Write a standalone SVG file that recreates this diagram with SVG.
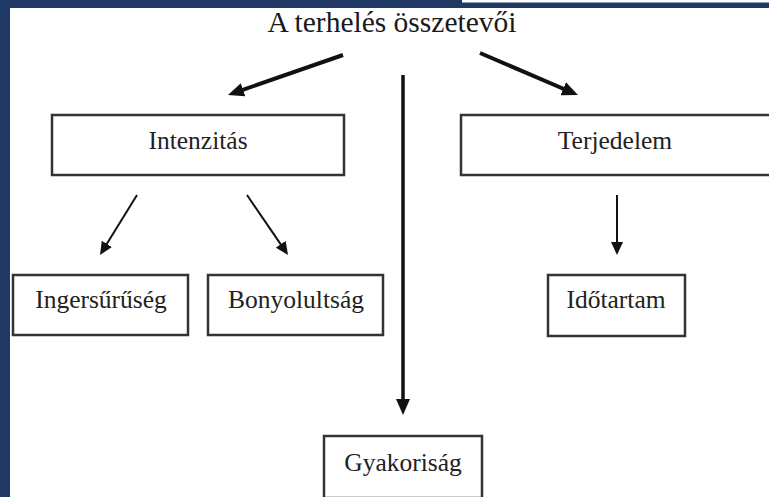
<svg xmlns="http://www.w3.org/2000/svg" width="769" height="497" viewBox="0 0 769 497">
<style>
.box{fill:#ffffff;stroke:#333333;stroke-width:2.5}
.lbl{font-family:"Liberation Serif","Times New Roman",serif;font-size:25.5px;fill:#222222;text-anchor:middle}
.title{font-family:"Liberation Serif","Times New Roman",serif;font-size:29.5px;fill:#1a1a1a;text-anchor:middle}
.thick{stroke:#111111;stroke-width:4;fill:none;marker-end:url(#hb)}
.vert{stroke:#111111;stroke-width:3.5;fill:none;marker-end:url(#hb)}
.thin{stroke:#111111;stroke-width:2;fill:none;marker-end:url(#hs)}
</style>
<defs>
<marker id="hb" markerUnits="userSpaceOnUse" markerWidth="16" markerHeight="14" refX="2" refY="7" orient="auto">
<path d="M0,0 L16,7 L0,14 z" fill="#111111"/>
</marker>
<marker id="hs" markerUnits="userSpaceOnUse" markerWidth="13" markerHeight="12" refX="2" refY="6" orient="auto">
<path d="M0,0 L13,6 L0,12 z" fill="#111111"/>
</marker>
</defs>
<rect x="0" y="0" width="769" height="497" fill="#ffffff"/>
<g id="frame">
<rect x="0" y="0" width="10" height="497" fill="#1f3864"/>
<rect x="0" y="0" width="462" height="8" fill="#1f3864"/>
<rect x="462" y="2.5" width="307" height="5.5" fill="#1f3864"/>
</g>
<g id="title"><text class="title" x="392" y="32">A terhelés összetevői</text></g>
<g id="connectors">
<line class="thick" x1="343" y1="55" x2="241.2" y2="90.4"/>
<line class="thick" x1="480" y1="53" x2="565.1" y2="89.5"/>
<line class="vert" x1="403" y1="75" x2="403" y2="401"/>
<line class="thin" x1="137" y1="195" x2="105.8" y2="245.6"/>
<line class="thin" x1="247" y1="195" x2="281.8" y2="245.9"/>
<line class="thin" x1="617" y1="195" x2="617" y2="244"/>
</g>
<g id="intenzitas"><rect class="box" x="52" y="115" width="292" height="60"/><text class="lbl" x="198" y="149">Intenzitás</text></g>
<g id="terjedelem"><rect class="box" x="461" y="115" width="310" height="60"/><text class="lbl" x="615" y="149">Terjedelem</text></g>
<g id="ingersuruseg"><rect class="box" x="13" y="275" width="175" height="60"/><text class="lbl" x="101" y="308">Ingersűrűség</text></g>
<g id="bonyolultsag"><rect class="box" x="208" y="275" width="175" height="60"/><text class="lbl" x="296" y="308">Bonyolultság</text></g>
<g id="idotartam"><rect class="box" x="548" y="275" width="137" height="61"/><text class="lbl" x="616" y="308">Időtartam</text></g>
<g id="gyakorisag"><rect class="box" x="324" y="436" width="158" height="62"/><text class="lbl" x="403" y="471">Gyakoriság</text></g>
</svg>
